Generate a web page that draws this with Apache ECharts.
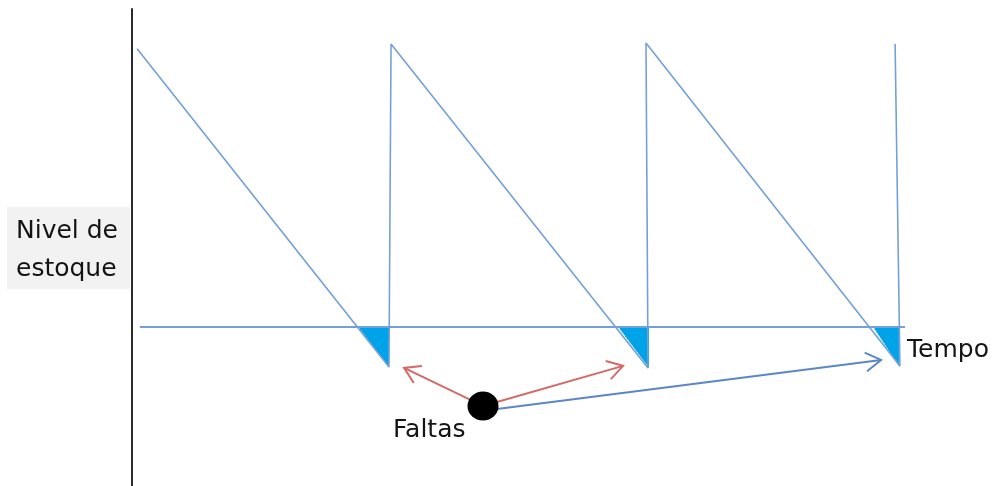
<!DOCTYPE html>
<html>
<head>
<meta charset="utf-8">
<script src="https://cdn.jsdelivr.net/npm/echarts@6/dist/echarts.min.js"></script>
<style>html,body{margin:0;padding:0;background:#fff}#c{width:998px;height:486px}</style>
</head>
<body>
<div id="c"></div>
<script>
// Sawtooth inventory curve (time, inventory level)
const sawTime  = [0.2, 10.09, 10.17, 20.26, 20.18, 30.15, 29.96];
const sawLevel = [98, -14.1, 99.7, -14.4, 100, -13.7, 99.7];
// Zero inventory line (time axis)
const baseTime  = [0.31, 30.35];
const baseLevel = [0, 0];
// Shortage triangles
const shortageStart = [8.87, 19.08, 29.09];
const shortageEnd   = [10.09, 20.30, 30.11];
const shortageDepth = [-14.1, -14.4, -13.7];
// "Faltas" marker and arrows
const dotPoint = [13.78, -27.8];
const arrowFrom = [[13.78, -27.8], [13.78, -27.8], [14.33, -28.9]];
const arrowTo   = [[10.68, -14.4], [19.28, -13.7], [29.41, -11.6]];
const arrowColor = ['#d46a67', '#d46a67', '#5b87c5'];
// Labels
const yLabel = ['Nivel de', 'estoque'];
const xLabel = 'Tempo';
const dotLabel = 'Faltas';

const FONT = '"DejaVu Sans", sans-serif';
const chart = echarts.init(document.getElementById('c'), null, {renderer: 'canvas'});

const sawData = sawTime.map((t, i) => [t, sawLevel[i]]);
const baseData = baseTime.map((t, i) => [t, baseLevel[i]]);
const triData = shortageStart.map((t, i) => [t, shortageEnd[i], shortageDepth[i]]);
const arrowData = arrowFrom.map((f, i) => [f[0], f[1], arrowTo[i][0], arrowTo[i][1], i]);

chart.setOption({
  animation: false,
  grid: {left: 132, right: 0, top: 9, bottom: 0},
  xAxis: {type: 'value', min: 0, max: 34, show: false},
  yAxis: {
    type: 'value', min: -56, max: 112,
    axisLine: {show: true, lineStyle: {color: '#2b2b2b', width: 2}},
    axisTick: {show: false}, axisLabel: {show: false}, splitLine: {show: false}
  },
  graphic: [
    {type: 'rect', shape: {x: 7, y: 207, width: 123, height: 82}, style: {fill: '#f2f2f2'}, z: 0},
    {type: 'text', x: 16, y: 231, style: {text: yLabel[0], font: '25px ' + FONT, fill: '#141414', verticalAlign: 'middle'}, z: 1},
    {type: 'text', x: 16, y: 269.5, style: {text: yLabel[1], font: '25px ' + FONT, fill: '#141414', verticalAlign: 'middle'}, z: 1},
    {type: 'text', x: 907, y: 350, style: {text: xLabel, font: '25px ' + FONT, fill: '#141414', verticalAlign: 'middle'}, z: 1},
    {type: 'text', x: 393, y: 430, style: {text: dotLabel, font: '25px ' + FONT, fill: '#141414', verticalAlign: 'middle'}, z: 1}
  ],
  series: [
    {
      type: 'custom', z: 1, data: triData,
      renderItem: function (params, api) {
        const a = api.coord([api.value(0), 0]);
        const b = api.coord([api.value(1), 0]);
        const c = api.coord([api.value(1), api.value(2)]);
        return {type: 'group', children: [
          {type: 'polygon', shape: {points: [a, b, c]}, style: {fill: '#00a2e8'}},
          {type: 'line', shape: {x1: a[0] + 1, y1: a[1] + 1, x2: c[0] - 1, y2: c[1] - 1},
           style: {stroke: '#ffffff', lineWidth: 1, lineDash: [1, 2]}}
        ]};
      }
    },
    {
      type: 'line', z: 2, data: sawData, symbol: 'none',
      lineStyle: {color: '#74a0d8', width: 1.6}
    },
    {
      type: 'line', z: 2, data: baseData, symbol: 'none',
      lineStyle: {color: '#74a0d8', width: 1.8}
    },
    {
      type: 'custom', z: 3, data: arrowData,
      renderItem: function (params, api) {
        const p0 = api.coord([api.value(0), api.value(1)]);
        const p1 = api.coord([api.value(2), api.value(3)]);
        const col = arrowColor[api.value(4)];
        const ang = Math.atan2(p0[1] - p1[1], p0[0] - p1[0]);
        const L = 18, h = 0.55;
        const h1 = [p1[0] + L * Math.cos(ang + h), p1[1] + L * Math.sin(ang + h)];
        const h2 = [p1[0] + L * Math.cos(ang - h), p1[1] + L * Math.sin(ang - h)];
        return {type: 'group', children: [
          {type: 'line', shape: {x1: p0[0], y1: p0[1], x2: p1[0], y2: p1[1]}, style: {stroke: col, lineWidth: 2}},
          {type: 'polyline', shape: {points: [h1, p1, h2]}, style: {stroke: col, lineWidth: 2, fill: null}}
        ]};
      }
    },
    {
      type: 'scatter', z: 4, data: [dotPoint], symbol: 'circle', symbolSize: [31, 29],
      itemStyle: {color: '#000', opacity: 1}
    }
  ]
});
</script>
</body>
</html>
